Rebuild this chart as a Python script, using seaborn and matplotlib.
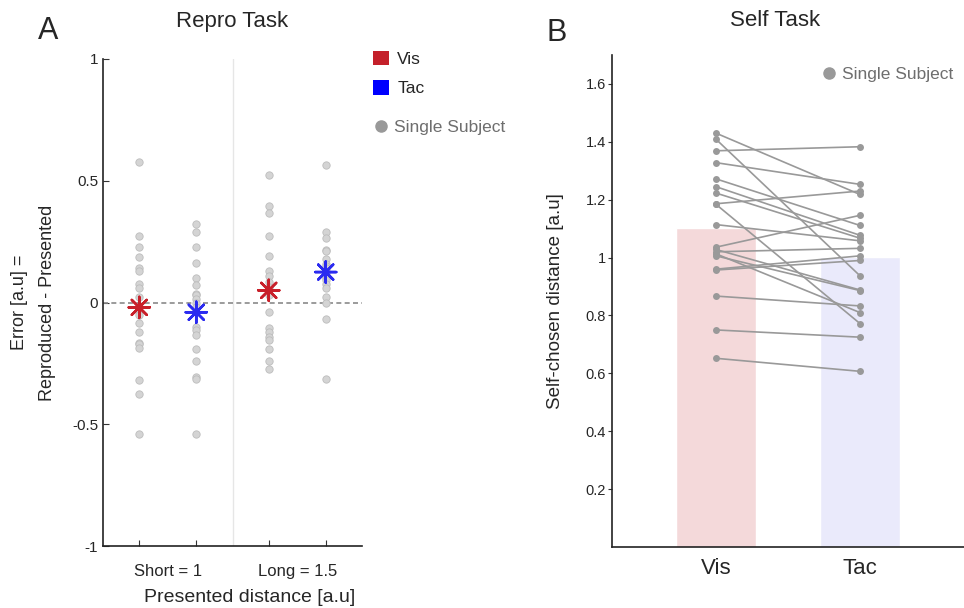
import numpy as np
import pandas as pd
import matplotlib.pyplot as plt
from matplotlib.patches import Patch
from matplotlib.lines import Line2D
import seaborn as sns

# Repro task: error (reproduced - presented) per subject, one list per condition
err_vis_short = [0.575, 0.274, 0.228, 0.187, 0.141, 0.128, 0.077, 0.060, 0.022, -0.02,
                 -0.04, -0.05, -0.084, -0.122, -0.167, -0.17, -0.186, -0.32, -0.375, -0.54]
err_tac_short = [0.324, 0.291, 0.228, 0.162, 0.099, 0.073, 0.033, 0.03, 0.015, 0.0,
                 -0.02, -0.04, -0.101, -0.113, -0.133, -0.191, -0.239, -0.305, -0.315, -0.54]
err_vis_long = [0.523, 0.396, 0.368, 0.272, 0.193, 0.130, 0.108, 0.084, 0.063, 0.05,
                0.05, 0.03, -0.040, -0.106, -0.122, -0.140, -0.154, -0.191, -0.242, -0.273]
err_tac_long = [0.565, 0.289, 0.265, 0.217, 0.210, 0.180, 0.16, 0.15, 0.14, 0.13,
                0.12, 0.11, 0.10, 0.091, 0.076, 0.059, 0.022, -0.001, -0.067, -0.316]
mean_err = [-0.02, -0.04, 0.05, 0.125]
repro_mod = ["Vis", "Tac", "Vis", "Tac"]
dist_labels = ["Short = 1", "Long = 1.5"]

# Self task: self-chosen distance per subject (paired)
self_vis = [1.430, 1.409, 1.369, 1.328, 1.272, 1.245, 1.223, 1.186, 1.184, 1.114,
            1.036, 1.028, 1.020, 1.013, 1.006, 0.960, 0.957, 0.867, 0.750, 0.652]
self_tac = [1.218, 0.937, 1.383, 1.253, 1.111, 1.077, 1.067, 1.230, 0.772, 1.058,
            1.146, 0.888, 1.032, 0.810, 0.886, 1.006, 0.990, 0.833, 0.725, 0.607]
cond_labels = ["Vis", "Tac"]

# colours
red, blue = "#c4202a", "#0000ff"
star_col = {"Vis": "#c8202a", "Tac": "#2b2bf0"}
bar_col = ["#f4d9da", "#eaeafb"]
gray = "#999999"

sns.set_style("white")
plt.rcParams["font.family"] = ["Liberation Sans", "DejaVu Sans"]

fig = plt.figure(figsize=(9.64, 6.08), dpi=100)
W, H = 964, 608
axA = fig.add_axes([103 / W, 1 - 546 / H, 259 / W, 487 / H])
axB = fig.add_axes([612 / W, 1 - 547 / H, 352 / W, 492 / H])

# ---- Panel A ----
x_pos = [0.89, 1.11, 1.39, 1.61]
groups = [err_vis_short, err_tac_short, err_vis_long, err_tac_long]
dfA = pd.DataFrame({
    "pos": np.repeat(x_pos, [len(g) for g in groups]),
    "err": np.concatenate(groups),
})

axA.axvline(1.25, color="#e6e6e6", lw=1, zorder=0)
axA.axhline(0, color="#8a8a8a", lw=1.2, ls=(0, (3, 2)), zorder=1)
sns.scatterplot(data=dfA, x="pos", y="err", color="#d4d4d4", edgecolor="#bcbcbc",
                linewidth=0.6, s=28, ax=axA, zorder=2)
axA.scatter(x_pos, mean_err, c=[star_col[m] for m in repro_mod], marker=(8, 2, 0),
            s=230, linewidths=1.8, zorder=3)

axA.set_xlim(0.75, 1.75)
axA.set_ylim(-1, 1)
axA.set_yticks([-1, -0.5, 0, 0.5, 1])
axA.set_yticklabels(["-1", "-0.5", "0", "0.5", "1"])
axA.set_xticks(x_pos)
axA.set_xticklabels([])
axA.set_xticks([1, 1.5], minor=True)
axA.set_xticklabels(dist_labels, minor=True, fontsize=12)
axA.tick_params(axis="x", which="minor", length=0, pad=13)
axA.tick_params(axis="both", which="major", direction="in", length=4, width=0.8,
                labelsize=11, color="#333333", left=True, bottom=True)
sns.despine(ax=axA)
for s in ["left", "bottom"]:
    axA.spines[s].set_color("#222222")
    axA.spines[s].set_linewidth(1.2)

axA.set_xlabel("Presented distance [a.u]", fontsize=14)
axA.xaxis.set_label_coords(0.567, -0.088)
axA.set_ylabel("Error [a.u] =\nReproduced - Presented", fontsize=13, va="center",
               linespacing=1.85)
axA.yaxis.set_label_coords(-0.27, 0.5)
axA.set_title("Repro Task", fontsize=16, y=1.076, va="center", pad=0)

handles = [Patch(facecolor=red, edgecolor="none", label="Vis"),
           Patch(facecolor=blue, edgecolor="none", label="Tac")]
legA = axA.legend(handles=handles, loc="upper left", bbox_to_anchor=(366 / W, 1 - 44 / H),
                  bbox_transform=fig.transFigure, frameon=False, fontsize=12.5,
                  handlelength=0.9, handleheight=0.9, handletextpad=0.5,
                  labelspacing=0.75, borderaxespad=0)
axA.add_artist(legA)
legA2 = axA.legend(handles=[Line2D([], [], marker="o", ls="none", color=gray,
                                   markersize=8, label="Single Subject")],
                   loc="upper left", bbox_to_anchor=(366 / W, 1 - 113 / H),
                   bbox_transform=fig.transFigure, frameon=False, fontsize=12.5,
                   handlelength=0.9, handletextpad=0.3, borderaxespad=0)
legA2.get_texts()[0].set_color("#6e6e6e")

# ---- Panel B ----
dfB = pd.DataFrame({
    "cond": np.repeat(cond_labels, len(self_vis)),
    "pos": np.repeat([0, 1], len(self_vis)),
    "subj": np.tile(np.arange(len(self_vis)), 2),
    "dist": self_vis + self_tac,
})

sns.barplot(data=dfB, x="cond", y="dist", hue="cond", order=cond_labels,
            palette=bar_col, errorbar=None, width=0.556, saturation=1,
            legend=False, ax=axB, zorder=0)
sns.lineplot(data=dfB, x="pos", y="dist", units="subj", estimator=None, color=gray,
             lw=1.2, marker="o", markersize=5, markeredgewidth=0, ax=axB, zorder=2)

axB.set_xlim(-0.722, 1.722)
axB.set_ylim(0, 1.7)
axB.set_yticks(np.arange(0.2, 1.61, 0.2))
axB.set_yticklabels(["0.2", "0.4", "0.6", "0.8", "1", "1.2", "1.4", "1.6"])
axB.set_xticks([0, 1])
axB.set_xticklabels(cond_labels, fontsize=16)
axB.tick_params(axis="x", length=0, pad=8)
axB.tick_params(axis="y", direction="out", length=3, width=0.8, labelsize=10.5,
                color="#333333", left=True, pad=1.5)
sns.despine(ax=axB)
for s in ["left", "bottom"]:
    axB.spines[s].set_color("#222222")
    axB.spines[s].set_linewidth(1.2)
axB.set_xlabel("")
axB.set_ylabel("Self-chosen distance [a.u]", fontsize=13.5, va="center")
axB.yaxis.set_label_coords(-0.16, 0.5)
axB.set_title("Self Task", fontsize=16, x=0.463, y=1.071, va="center", pad=0)

legB = axB.legend(handles=[Line2D([], [], marker="o", ls="none", color=gray,
                                  markersize=8, label="Single Subject")],
                  loc="upper right", bbox_to_anchor=(960 / W, 1 - 60 / H),
                  bbox_transform=fig.transFigure, frameon=False, fontsize=12.5,
                  handlelength=0.9, handletextpad=0.3, borderaxespad=0)
legB.get_texts()[0].set_color("#6e6e6e")

# panel letters
fig.text(48 / W, 1 - 31 / H, "A", fontsize=22, ha="center", va="center")
fig.text(557 / W, 1 - 33 / H, "B", fontsize=22, ha="center", va="center")

fig.savefig("out.png", dpi=100)
